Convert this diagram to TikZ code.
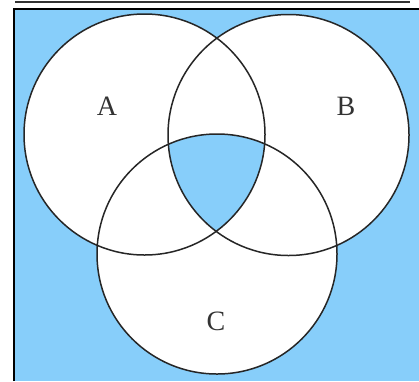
\documentclass[tikz,border=0pt]{standalone}
\usepackage{fontspec}
\setmainfont{Liberation Serif}
\definecolor{skyfill}{RGB}{135,206,250}
\begin{document}
\begin{tikzpicture}[
  x=1pt, y=-1pt,
  set/.style={draw, line width=1.5pt, black!85},
  setlabel/.style={font=\fontsize{28}{28}\selectfont, text=black!80}
]
\useasboundingbox (0,0) rectangle (419,381);
% frame and background
\fill[skyfill] (14,9) rectangle (419,381);
\draw[line width=2pt] (14,381) -- (14,9) -- (419,9);
\draw[line width=1.6pt, black!80] (15,2) -- (410,2);
% set centres
\coordinate (ca) at (144.5,134.5);
\coordinate (cb) at (288.5,135);
\coordinate (cc) at (217,254);
\fill[white] (ca) circle (120.5pt) (cb) circle (120.5pt) (cc) circle (120pt);
\begin{scope}
  \clip (ca) circle (120.5pt);
  \clip (cb) circle (120.5pt);
  \fill[skyfill] (cc) circle (120pt);
\end{scope}
\draw[set] (ca) circle (120.5pt);
\draw[set] (cb) circle (120.5pt);
\draw[set] (cc) circle (120pt);
% labels
\node[setlabel] (la) at (107,106) {A};
\node[setlabel] (lb) at (346,106) {B};
\node[setlabel] (lc) at (216,321) {C};
\end{tikzpicture}
\end{document}
